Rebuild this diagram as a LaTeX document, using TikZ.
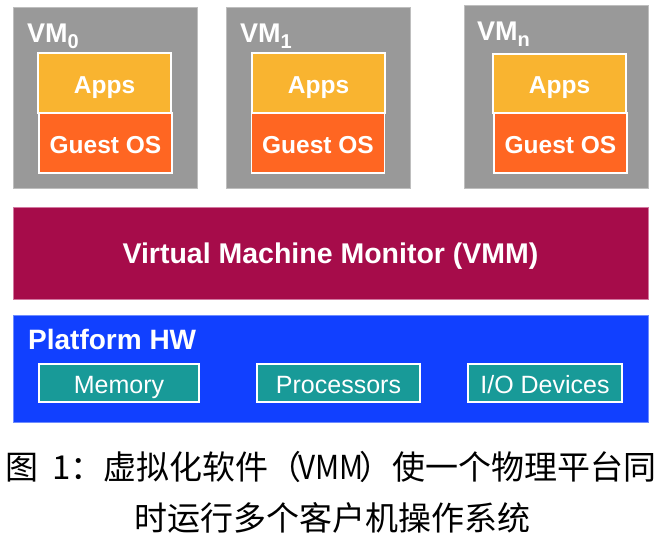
\documentclass[tikz,border=0pt]{standalone}
\usepackage{fontspec}
\setmainfont{Liberation Sans}
\newfontfamily\cjk{Noto Sans CJK SC}
\definecolor{vmgray}{RGB}{153,153,153}
\definecolor{vmedge}{RGB}{190,190,190}
\definecolor{appsc}{RGB}{249,180,48}
\definecolor{guestc}{RGB}{255,102,34}
\definecolor{vmmc}{RGB}{166,12,74}
\definecolor{vmmedge}{RGB}{210,120,160}
\definecolor{hwc}{RGB}{17,64,255}
\definecolor{hwedge}{RGB}{110,140,255}
\definecolor{tealc}{RGB}{24,154,152}
\newcommand\vmsub[1]{\raisebox{-6pt}{\fontsize{20}{20}\selectfont #1}}
\tikzset{
  vmbox/.style={draw=vmedge, line width=0.8pt, fill=vmgray, inner sep=0pt, outer sep=0pt},
  inbox/.style={draw=white, line width=1.5pt, inner sep=0pt, outer sep=0pt, text=white,
    font=\fontsize{24.5}{24.5}\selectfont\bfseries, text height=20pt, text depth=0pt,
    minimum width=133pt, minimum height=60pt},
  appsbox/.style={inbox, fill=appsc},
  guestbox/.style={inbox, fill=guestc},
  vmlabel/.style={inner sep=0pt, text=white, font=\fontsize{27}{27}\selectfont\bfseries, anchor=base west},
  bigbar/.style={inner sep=0pt, outer sep=0pt, line width=0.8pt, minimum width=635pt},
  hwitem/.style={draw=white, line width=1.5pt, fill=tealc, inner sep=0pt, text=white,
    font=\fontsize{25}{25}\selectfont, text height=20pt, text depth=0pt, minimum height=38pt},
  captext/.style={inner sep=0pt, anchor=base, font=\cjk\fontsize{33}{33}\selectfont}
}
\begin{document}
\begin{tikzpicture}[x=1pt,y=-1pt]
\useasboundingbox[fill=white] (0,0) rectangle (666,546);
% VM boxes
\node[vmbox, minimum width=184pt, minimum height=181pt] (vm0) at (105,97.5) {};
\node[vmbox, minimum width=184pt, minimum height=181pt] (vm1) at (318,97.5) {};
\node[vmbox, minimum width=184pt, minimum height=183pt] (vmn) at (556,96.5) {};
\node[vmlabel] (vm0l) at (27,42) {VM\vmsub{0}};
\node[vmlabel] (vm1l) at (240,42) {VM\vmsub{1}};
\node[vmlabel] (vmnl) at (477,40) {VM\vmsub{n}};
% Apps / Guest OS
\node[appsbox] (apps0) at (104.5,83) {Apps};
\node[guestbox] (guest0) at (105.5,143) {Guest OS};
\node[appsbox] (apps1) at (318.5,83) {Apps};
\node[guestbox] (guest1) at (318,143) {Guest OS};
\node[appsbox, minimum height=59pt] (appsn) at (559.5,83.5) {Apps};
\node[guestbox] (guestn) at (560.5,143) {Guest OS};
% VMM
\node[bigbar, draw=vmmedge, fill=vmmc, minimum height=92pt, text=white,
  font=\fontsize{28.5}{28.5}\selectfont\bfseries, text height=20pt, text depth=0pt]
  (vmm) at (330.5,253) {Virtual Machine Monitor (VMM)};
% Platform HW
\node[bigbar, draw=hwedge, fill=hwc, minimum height=107pt] (hw) at (330.5,368.5) {};
\node[vmlabel, font=\fontsize{28}{28}\selectfont\bfseries] (hwl) at (28,349) {Platform HW};
\node[hwitem, minimum width=160pt] (mem) at (119,383) {Memory};
\node[hwitem, minimum width=163pt] (proc) at (338.5,383) {Processors};
\node[hwitem, minimum width=154pt] (io) at (545,383) {I/O Devices};
% Caption
\node[captext] (cap1) at (331,479) {图\hspace{14pt}1：虚拟化软件（\hspace{-4pt}\scalebox{0.9}[1]{VMM}\hspace{-4pt}）使一个物理平台同};
\node[captext] (cap2) at (332.5,530) {时运行多个客户机操作系统};
\end{tikzpicture}
\end{document}
